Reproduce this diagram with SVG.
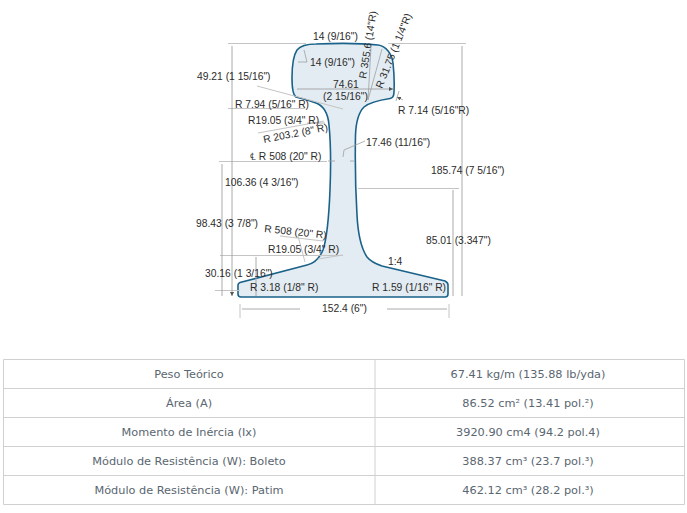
<svg xmlns="http://www.w3.org/2000/svg" width="687" height="513" viewBox="0 0 687 513">
<style>
.t{font:10.3px "Liberation Sans",Arial,sans-serif;fill:#2b2b2b}
.c{font:11.3px "DejaVu Sans",Verdana,sans-serif;fill:#5a6670;text-anchor:middle}
.d{stroke:#c4c4c4;stroke-width:1;fill:none}
.a{stroke:#a0a0a0;stroke-width:.9;fill:none;marker-end:url(#m);marker-start:url(#n)}
.e{stroke:#a0a0a0;stroke-width:.8;fill:none;marker-end:url(#m)}
.b{stroke:#d0d0d0;stroke-width:1;fill:none}
</style>
<defs>
<marker id="m" markerUnits="userSpaceOnUse" markerWidth="5" markerHeight="5" refX="4" refY="2" orient="auto"><path d="M0,0L4,2L0,4Z" fill="#555"/></marker>
<marker id="n" markerUnits="userSpaceOnUse" markerWidth="5" markerHeight="5" refX="0" refY="2" orient="auto"><path d="M4,0L0,2L4,4Z" fill="#555"/></marker>
</defs>
<rect width="687" height="513" fill="#fff"/>
<g id="rail"><path d="M297,50C301,45 308,44 316,44C340,43 360,43 378,45C386,46 392,54 393,63C394,72 394.500,82 394,92C394,96 393,98 390,98.500C380,100 370,102 364,107C358,113 356,122 355.500,135C355,160 355.500,190 357,215C358,235 361,248 367,257C371,262 376,264 382,266L445,281C447,282 448,283 448,285L448,294C448,296 447,297 445,297L241,297C239,297 238,296 238,294L238,285C238,284 239,283 240,282.500L307,265C316,263 320,257 323,250C327,238 329,215 330,190C331,165 331,145 329,125C328,113 324,106 316,103C308,100 299,98 296,97C293,95 292,90 292,78C292,65 293,56 297,50Z" fill="#e3ecf2" stroke="#1a6289" stroke-width="1.600"/></g>
<g id="connectors">
<path class="d" d="M228,43.500H306M388,43.500H466M228,108.500H305M219,161.500H327M358,188.500H459M220,255.500H343M215,290.500H240"/>
<path class="d" d="M240,304V318M449,304V318M257,86L343,109M258,133L324,121M280,236L323,241M318,259L343,255M298,236L305,262"/>
<path class="a" d="M232,296V46M222,296V164M256,296V257M462,296V46M453,296V190M242,309H300M447,309H387M297,89H393"/>
<path class="e" d="M298,62H307M307,62L304,50M368,100L382,49M368,100L371,47M335,161H328M350,161H355M365,141L344,150L343,157M307,123H325M396,101L399,91M403,100L397,97"/>
</g>
<g id="labels">
<text class="t" x="313" y="40">14 (9/16")</text>
<text class="t" x="310" y="66">14 (9/16")</text>
<text class="t" x="197" y="80">49.21 (1 15/16")</text>
<text class="t" x="333" y="88">74.61</text>
<text class="t" x="323" y="100">(2 15/16")</text>
<text class="t" x="235" y="108">R 7.94 (5/16" R)</text>
<text class="t" x="248" y="124">R19.05 (3/4" R)</text>
<text class="t" x="264" y="143" transform="rotate(-11 264 143)">R 203.2 (8" R)</text>
<text class="t" x="250" y="160">℄ R 508 (20" R)</text>
<text class="t" x="366" y="146">17.46 (11/16")</text>
<text class="t" x="398" y="114">R 7.14 (5/16"R)</text>
<text class="t" x="366" y="79" transform="rotate(-81 366 79)">R 355.6 (14"R)</text>
<text class="t" x="382" y="89" transform="rotate(-68 382 89)">R 31.75 (1 1/4"R)</text>
<text class="t" x="431" y="174">185.74 (7 5/16")</text>
<text class="t" x="225" y="186">106.36 (4 3/16")</text>
<text class="t" x="196" y="227">98.43 (3 7/8")</text>
<text class="t" x="264" y="232" transform="rotate(6 264 232)">R 508 (20" R)</text>
<text class="t" x="268" y="253">R19.05 (3/4" R)</text>
<text class="t" x="426" y="244">85.01 (3.347")</text>
<text class="t" x="205" y="277">30.16 (1 3/16")</text>
<text class="t" x="388" y="265">1:4</text>
<text class="t" x="250" y="291">R 3.18 (1/8" R)</text>
<text class="t" x="372" y="291">R 1.59 (1/16" R)</text>
<text class="t" x="322" y="312">152.4 (6")</text>
</g>
<g id="table">
<path class="b" d="M3.500,359.500H684.500V504.500H3.500ZM3.500,388.500H684.500M3.500,417.500H684.500M3.500,446.500H684.500M3.500,475.500H684.500M375,359.500V504.500"/>
<text class="c" x="189" y="378">Peso Teórico</text><text class="c" x="528" y="378">67.41 kg/m (135.88 lb/yda)</text>
<text class="c" x="189" y="407">Área (A)</text><text class="c" x="528" y="407">86.52 cm² (13.41 pol.²)</text>
<text class="c" x="189" y="436">Momento de Inércia (Ix)</text><text class="c" x="528" y="436">3920.90 cm4 (94.2 pol.4)</text>
<text class="c" x="189" y="465">Módulo de Resistência (W): Boleto</text><text class="c" x="528" y="465">388.37 cm³ (23.7 pol.³)</text>
<text class="c" x="189" y="494">Módulo de Resistência (W): Patim</text><text class="c" x="528" y="494">462.12 cm³ (28.2 pol.³)</text>
</g>
</svg>
